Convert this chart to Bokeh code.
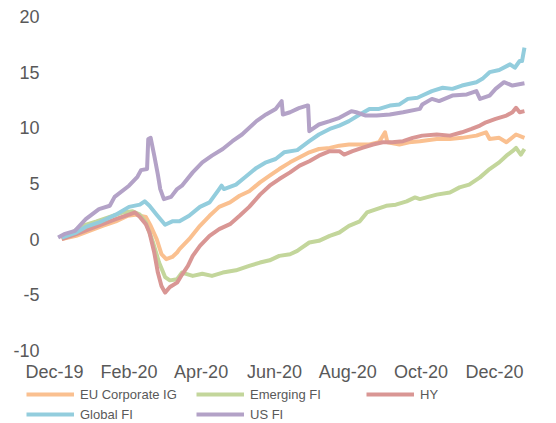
from bokeh.plotting import figure
from bokeh.layouts import column
from bokeh.models import FixedTicker, Legend, LegendItem, Range1d
from bokeh.embed import file_html
from bokeh.resources import INLINE

# x values are days since 2019-12-01
month_ticks = [0, 62, 122, 183, 244, 305, 366]
month_labels = ["Dec-19", "Feb-20", "Apr-20", "Jun-20", "Aug-20", "Oct-20", "Dec-20"]
y_ticks = [-10, -5, 0, 5, 10, 15, 20]
y_labels = ["-10", "-5", "0", "5", "10", "15", "20"]

eu_days = [6, 18, 29, 40, 51, 61, 67, 71, 76, 80, 85, 89, 93, 98, 102, 104, 112, 121, 129, 137,
           146, 154, 162, 171, 179, 187, 196, 204, 212, 220, 229, 237, 245, 254, 262, 270, 275,
           277, 287, 295, 304, 318, 329, 339, 351, 359, 362, 370, 376, 384, 391]
eu_vals = [0.0, 0.3, 0.75, 1.2, 1.6, 2.1, 2.2, 2.1, 2.0, 1.2, 0.0, -1.35, -1.8, -1.6, -1.2, -0.9,
           0.0, 1.2, 2.1, 2.9, 3.3, 3.9, 4.3, 5.1, 5.7, 6.3, 6.9, 7.35, 7.8, 8.1, 8.2, 8.4, 8.5,
           8.5, 8.5, 8.7, 9.6, 8.7, 8.5, 8.7, 8.8, 9.0, 9.0, 9.1, 9.3, 9.6, 9.0, 9.1, 8.7, 9.4, 9.1]

em_days = [6, 15, 23, 35, 46, 57, 65, 71, 76, 82, 87, 92, 96, 102, 106, 115, 123, 131, 140, 151,
           162, 171, 179, 187, 196, 202, 204, 212, 220, 229, 237, 245, 254, 260, 268, 276, 284,
           293, 300, 304, 318, 329, 337, 345, 354, 362, 370, 376, 381, 384, 388, 391]
em_vals = [0.15, 0.6, 1.2, 1.6, 2.0, 2.4, 2.5, 2.2, 1.5, -0.3, -2.1, -3.4, -3.7, -3.6, -3.0, -3.3,
           -3.1, -3.3, -3.0, -2.8, -2.4, -2.1, -1.9, -1.5, -1.35, -1.05, -0.9, -0.3, -0.15, 0.3,
           0.6, 1.2, 1.6, 2.4, 2.7, 3.0, 3.1, 3.4, 3.75, 3.6, 4.0, 4.2, 4.65, 4.9, 5.55, 6.3, 6.9,
           7.5, 7.9, 8.2, 7.6, 8.1]

hy_days = [6, 18, 29, 40, 51, 62, 67, 71, 76, 79, 83, 86, 89, 92, 96, 102, 106, 111, 115, 121,
           129, 137, 146, 154, 162, 171, 179, 187, 196, 204, 212, 220, 229, 237, 241, 248, 256,
           265, 273, 281, 290, 298, 306, 318, 329, 339, 347, 354, 359, 367, 376, 381, 384, 387, 391]
hy_vals = [0.0, 0.45, 0.9, 1.35, 1.8, 2.2, 2.4, 2.0, 1.35, 0.6, -1.2, -3.0, -4.2, -4.8, -4.3, -3.9,
           -3.2, -2.4, -1.5, -0.6, 0.3, 0.9, 1.35, 2.1, 2.9, 4.0, 4.8, 5.4, 6.0, 6.6, 7.0, 7.5,
           7.9, 7.9, 7.6, 7.9, 8.2, 8.5, 8.7, 8.7, 8.8, 9.1, 9.3, 9.4, 9.3, 9.6, 9.9, 10.2, 10.5,
           10.8, 11.1, 11.4, 11.8, 11.4, 11.5]

gl_days = [6, 18, 26, 37, 51, 62, 71, 75, 79, 85, 92, 98, 104, 112, 121, 129, 137, 139, 141, 151,
           159, 168, 176, 184, 191, 202, 212, 220, 229, 237, 245, 254, 262, 270, 279, 287, 294,
           302, 306, 314, 323, 331, 339, 351, 356, 362, 370, 379, 383, 387, 389, 391]
gl_vals = [0.15, 0.6, 1.1, 1.5, 2.2, 2.9, 3.1, 3.4, 3.0, 2.2, 1.3, 1.6, 1.6, 2.1, 2.9, 3.3, 4.5,
           4.8, 4.5, 4.9, 5.6, 6.4, 6.9, 7.2, 7.8, 8.0, 8.8, 9.4, 9.9, 10.2, 10.6, 11.2, 11.7,
           11.7, 12.0, 12.1, 12.6, 12.7, 12.9, 13.3, 13.6, 13.5, 13.8, 14.1, 14.4, 15.0, 15.2,
           15.7, 15.4, 16.0, 16.0, 17.2]

us_days = [3, 8, 17, 26, 37, 46, 50, 62, 69, 72, 77, 78, 80, 83, 86, 88, 91, 97, 102, 106, 115,
           123, 131, 140, 148, 156, 168, 176, 184, 189, 190, 196, 202, 204, 210, 211, 212, 220,
           229, 237, 247, 251, 259, 268, 279, 290, 304, 306, 314, 320, 331, 343, 351, 354, 362,
           367, 374, 381, 391]
us_vals = [0.15, 0.45, 0.75, 1.8, 2.7, 3.0, 3.8, 4.8, 5.6, 6.2, 6.3, 9.0, 9.1, 7.5, 5.8, 4.5, 3.6,
           3.8, 4.5, 4.8, 6.0, 6.9, 7.5, 8.1, 8.8, 9.4, 10.6, 11.2, 11.7, 12.4, 11.2, 11.4, 11.7,
           11.8, 12.0, 12.0, 9.7, 10.3, 10.6, 10.9, 11.5, 11.4, 11.1, 11.1, 11.2, 11.4, 11.7,
           12.1, 12.6, 12.4, 12.9, 13.0, 13.3, 12.6, 12.9, 13.5, 14.1, 13.8, 14.0]

series = [
    ("EU Corporate IG", eu_days, eu_vals, "#FAC090"),
    ("Emerging FI", em_days, em_vals, "#C3D69B"),
    ("HY", hy_days, hy_vals, "#D99694"),
    ("Global FI", gl_days, gl_vals, "#93CDDD"),
    ("US FI", us_days, us_vals, "#B3A2C7"),
]

p = figure(width=540, height=384, output_backend="svg", toolbar_location=None,
           x_range=Range1d(-2.5, 395.2), y_range=Range1d(-10, 20),
           min_border_left=51, min_border_right=11, min_border_top=16, min_border_bottom=33)
p.outline_line_color = None
p.xgrid.visible = False
p.ygrid.visible = False
p.frame_align = False

# legend strip as its own small figure under the chart
lg = figure(width=540, height=38, output_backend="svg", toolbar_location=None,
            x_range=Range1d(0, 1), y_range=Range1d(0, 1),
            min_border_left=0, min_border_right=0, min_border_top=0, min_border_bottom=0)
lg.axis.visible = False
lg.grid.visible = False
lg.outline_line_color = None
lg.frame_align = False

nan = float("nan")
items = []
for name, xs, ys, col in series:
    p.line(xs, ys, line_color=col, line_width=4, line_join="round")
    r = lg.line([nan, nan], [nan, nan], line_color=col, line_width=4)
    items.append(LegendItem(label=name, renderers=[r]))

for ax in (p.xaxis[0], p.yaxis[0]):
    ax.axis_line_color = None
    ax.major_tick_line_color = None
    ax.minor_tick_line_color = None
    ax.major_tick_out = 0
    ax.major_tick_in = 0
    ax.minor_tick_out = 0
    ax.major_label_text_font = "Liberation Sans"
    ax.major_label_text_font_size = "18px"
    ax.major_label_text_color = "#595959"

p.xaxis[0].ticker = FixedTicker(ticks=month_ticks)
p.xaxis[0].major_label_overrides = {t: l for t, l in zip(month_ticks, month_labels)}
p.xaxis[0].major_label_standoff = 11
p.yaxis[0].ticker = FixedTicker(ticks=y_ticks)
p.yaxis[0].major_label_overrides = {t: l for t, l in zip(y_ticks, y_labels)}
p.yaxis[0].major_label_standoff = 12

legend = Legend(items=items, location=(26, -2), orientation="horizontal", ncols=3,
                border_line_color=None, background_fill_alpha=0, padding=0, margin=0,
                spacing=0, glyph_width=48, glyph_height=20, label_height=20,
                label_width=116, label_standoff=6,
                label_text_font="Liberation Sans", label_text_font_size="13px",
                label_text_color="#595959")
lg.add_layout(legend)

open("out.html", "w").write(file_html(column(p, lg), INLINE))
